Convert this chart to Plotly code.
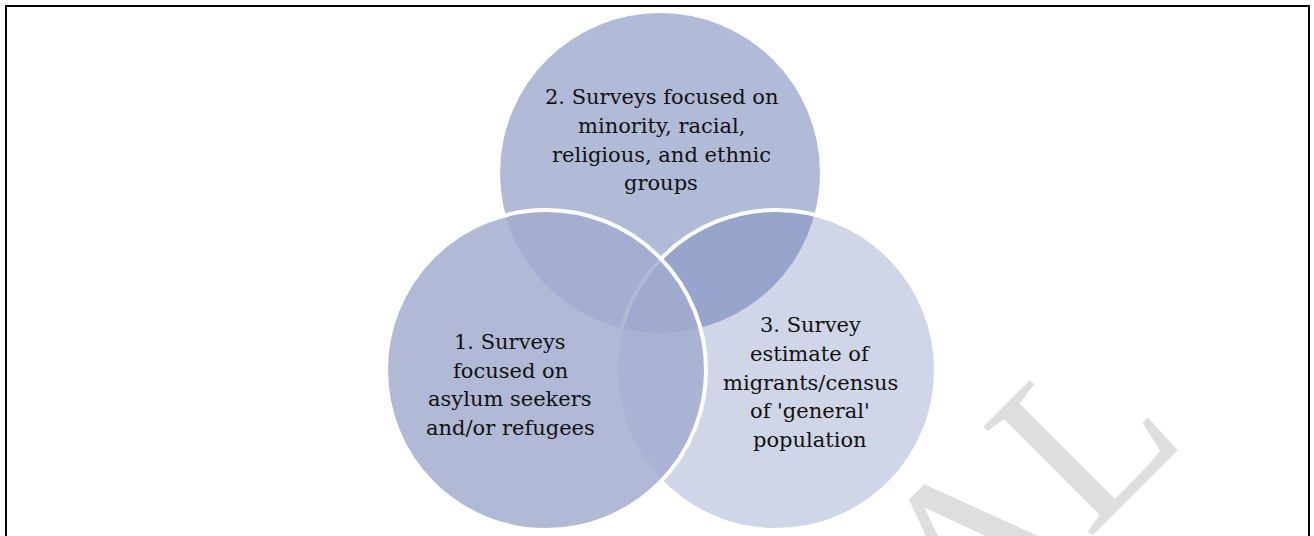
import plotly.graph_objects as go

# ---- data: the three survey types (labels split into lines as in the figure)
labels_1 = ["1. Surveys", "focused on", "asylum seekers", "and/or refugees"]
labels_2 = ["2. Surveys focused on", "minority, racial,", "religious, and ethnic", "groups"]
labels_3 = ["3. Survey", "estimate of", "migrants/census", "of 'general'", "population"]
watermark_text = "AL"

# ---- layout (pixel space, y downward)
W, H = 1314, 536
R = 160
circle_2 = dict(cx=660, cy=173, fill="rgb(177,186,215)", line=0)
circle_3 = dict(cx=776, cy=370, fill="rgba(87,109,173,0.28)", line=4)
circle_1 = dict(cx=546, cy=370, fill="rgba(162,172,206,0.84)", line=4)

text_blocks = [
    (labels_2, 661, 97, 28.8),
    (labels_1, 510, 342, 28.5),
    (labels_3, 810, 325, 28.8),
]

FONT = "DejaVu Serif"

fig = go.Figure()
fig.add_trace(go.Scatter(x=[0, W], y=[0, H], mode="markers",
                         marker=dict(opacity=0), hoverinfo="skip", showlegend=False))

# page frame
fig.add_shape(type="rect", xref="x", yref="y", x0=6, x1=1309, y0=6, y1=H + 10,
              line=dict(color="black", width=2), fillcolor="rgba(0,0,0,0)", layer="below")

for c in (circle_2, circle_3, circle_1):
    fig.add_shape(type="circle", xref="x", yref="y",
                  x0=c["cx"] - R, x1=c["cx"] + R, y0=c["cy"] - R, y1=c["cy"] + R,
                  fillcolor=c["fill"],
                  line=dict(color="white", width=c["line"]) if c["line"] else dict(width=0))

annotations = []
for lines, x, y0, dy in text_blocks:
    for i, t in enumerate(lines):
        annotations.append(dict(x=x, y=y0 + i * dy, xref="x", yref="y", text=t,
                                showarrow=False, xanchor="center", yanchor="middle",
                                font=dict(family=FONT, size=21, color="#111111")))

annotations.append(dict(x=1022, y=494, xref="x", yref="y", text=watermark_text,
                        showarrow=False, textangle=-45, xanchor="center", yanchor="middle",
                        font=dict(family="Liberation Serif", size=235, color="#dedede")))

fig.update_layout(
    width=W, height=H,
    margin=dict(l=0, r=0, t=0, b=0),
    paper_bgcolor="white", plot_bgcolor="white",
    xaxis=dict(range=[0, W], visible=False, fixedrange=True),
    yaxis=dict(range=[H, 0], visible=False, fixedrange=True),
    annotations=annotations,
    showlegend=False,
)

fig.write_html("out.html", config={"displayModeBar": False},
               post_script="document.body.style.margin='0';")
